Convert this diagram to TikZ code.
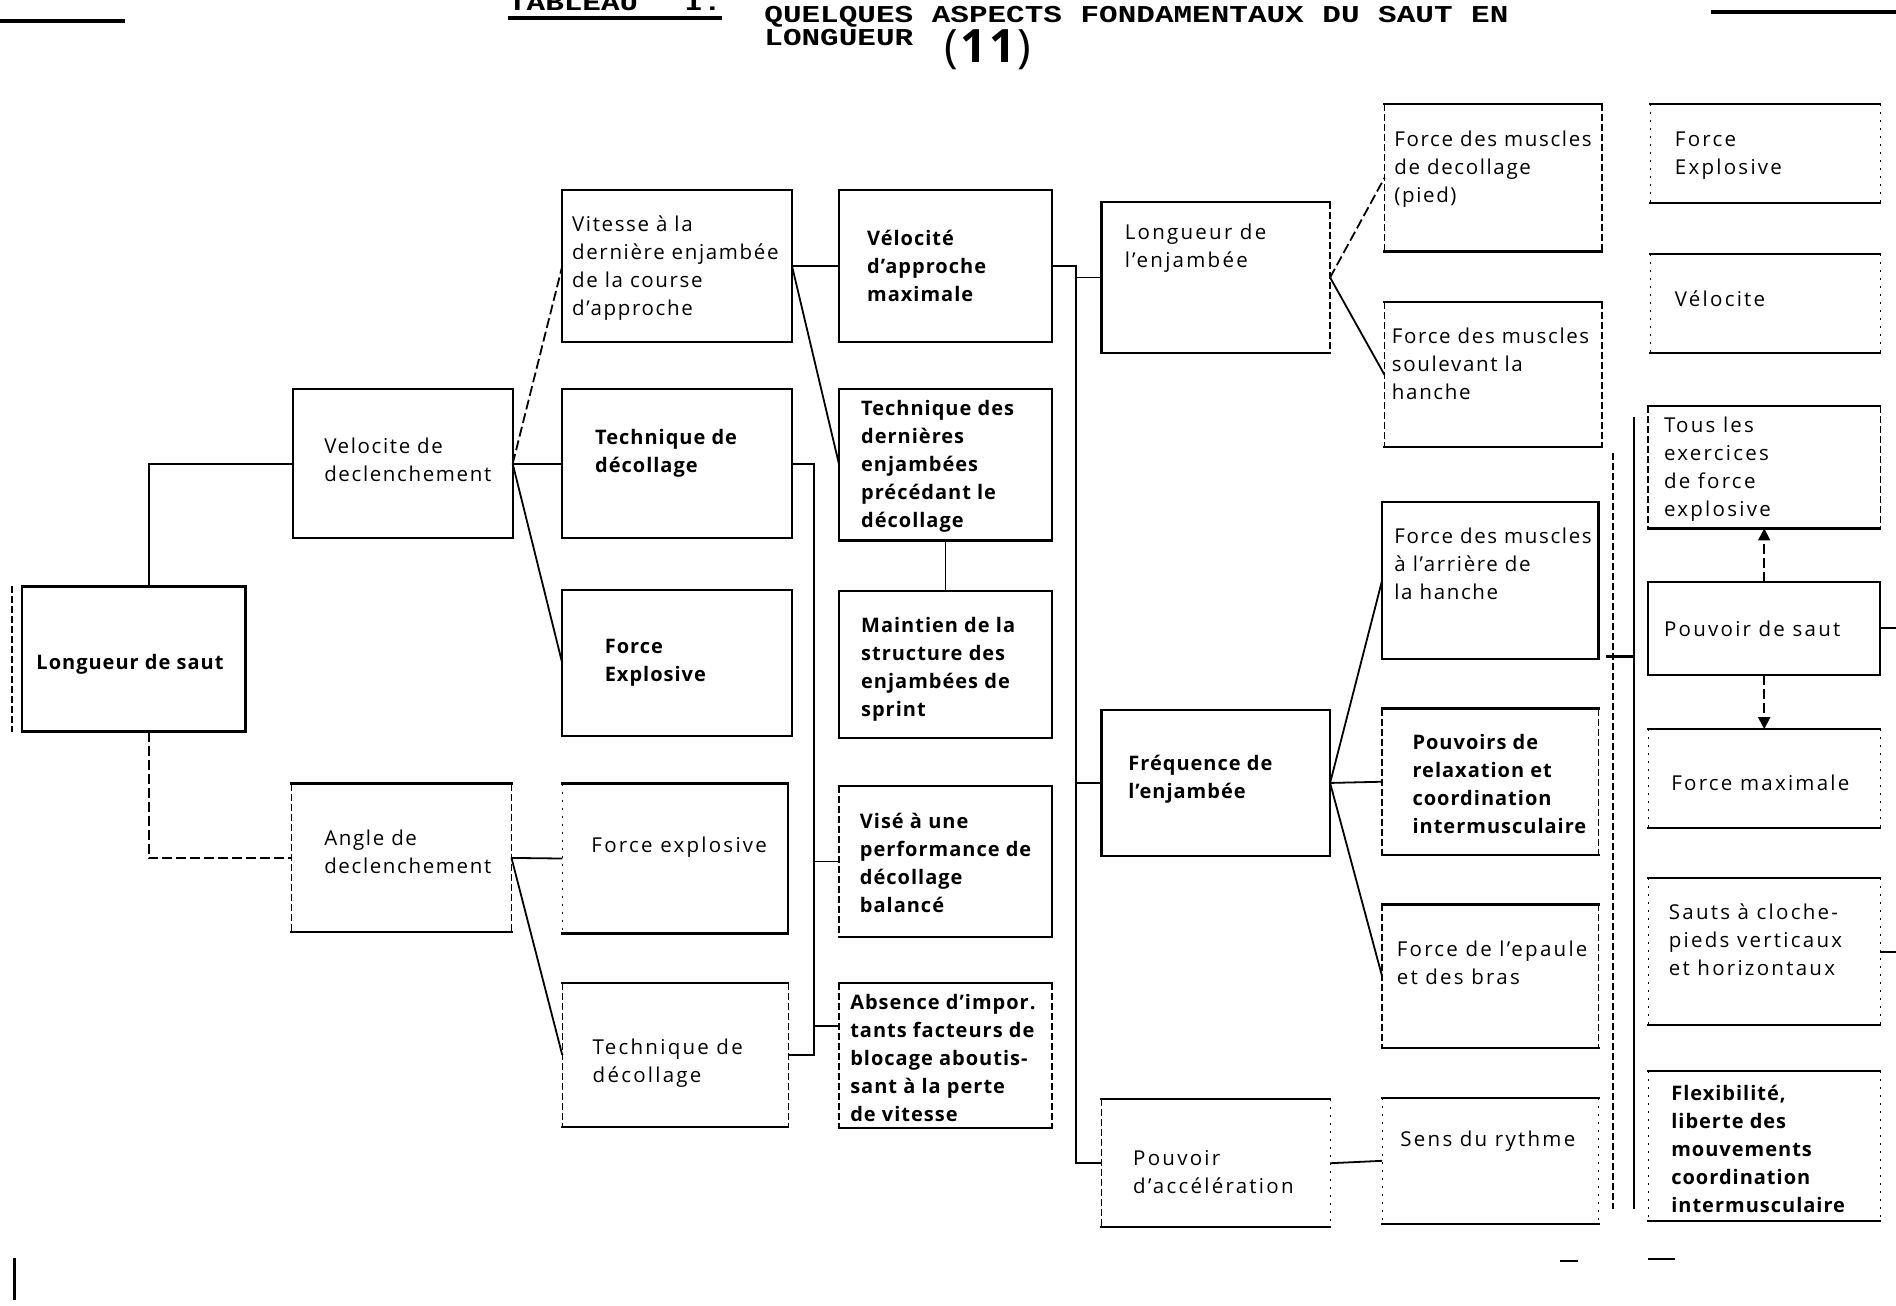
\documentclass[tikz,border=0pt]{standalone}
\usepackage{fontspec}
\setmainfont{Open Sans}[LetterSpace=5,Ligatures=TeX]
\newfontfamily\regA{Open Sans}[LetterSpace=8,Ligatures=TeX]
\newfontfamily\regB{Open Sans}[LetterSpace=11,Ligatures=TeX]
\newfontfamily\titlefont{Liberation Mono}
\usetikzlibrary{fit,arrows.meta}
\tikzset{
  boxst/.style={draw, line width=2.2pt, inner sep=0pt, outer sep=0pt},
  obox/.style={inner sep=0pt, outer sep=0pt},
  hline/.style={line width=2.2pt, line cap=rect},
  sol/.style={line width=2.2pt, line cap=rect},
  dsh/.style={line width=1.5pt, dash pattern=on 7pt off 3pt},
  dot/.style={line width=1.2pt, dash pattern=on 2pt off 6pt},
  conn/.style={line width=1.8pt},
  longdash/.style={dash pattern=on 10pt off 4pt},
  rt/.style={inner sep=0pt, align=left, anchor=west, font=\regA\fontsize{20.5}{28}\selectfont},
  rw/.style={rt, font=\regB\fontsize{20.5}{28}\selectfont},
  bt/.style={rt, font=\fontsize{20}{28}\selectfont\bfseries},
  ttl/.style={inner sep=0pt, anchor=base west, font=\titlefont\bfseries\fontsize{31}{31}\selectfont},
}
\newcommand{\mkbox}[5]{%
  \node[obox, fit={(#2) (#3)}] (#1) {};
  \draw[hline] (#1.north west) -- (#1.north east);
  \draw[hline] (#1.south west) -- (#1.south east);
  \draw[#4] (#1.north west) -- (#1.south west);
  \draw[#5] (#1.north east) -- (#1.south east);
}
\newcommand{\tl}[1]{\scalebox{1}[0.78]{#1}}
\begin{document}
\begin{tikzpicture}[x=1.2092pt,y=-1.2092pt]
\useasboundingbox (0,0) rectangle (1568,1080);
\clip (0,0) rectangle (1568,1080);
\fill[white] (0,0) rectangle (1568,1080);

% title
\node[ttl] (tab) at (420,9) {\tl{TABLEAU}};
\node[ttl] (tabI) at (566,9) {\tl{I.}};
\draw[line width=3.5pt] ([yshift=-7pt]tab.base west) -- ([yshift=-7pt]tabI.base east);
\node[ttl] (t1) at (632,19) {\tl{QUELQUES ASPECTS FONDAMENTAUX DU SAUT EN}};
\node[ttl] (t2) at (632,38) {\tl{LONGUEUR}};
\node[inner sep=0pt, font=\fontsize{46}{46}\selectfont] (t3) at (817,41) {(\textbf{11})};
\coordinate (lb1) at (0,17); \coordinate (lb2) at (103,17);
\draw[line width=4pt] (lb1) -- (lb2);
\coordinate (rb1) at (1415,10); \coordinate (rb2) at (1568,10);
\draw[line width=4pt] (rb1) -- (rb2);

% boxes
\node[boxst,fit={(18,485) (203,605)}] (b1) {};
\node[boxst,fit={(242,322) (424,445)}] (b2) {};
\mkbox{b3}{241,648}{423,771}{dsh}{dsh}
\node[boxst,fit={(465,157) (655,283)}] (b4) {};
\node[boxst,fit={(465,322) (655,445)}] (b5) {};
\node[boxst,fit={(465,488) (655,609)}] (b6) {};
\mkbox{b7}{465,648}{652,772}{dot}{sol}
\mkbox{b8}{465,813}{652,932}{dsh}{dsh}
\node[boxst,fit={(694,157) (870,283)}] (b9) {};
\node[boxst,fit={(694,322) (870,447)}] (b10) {};
\node[boxst,fit={(694,489) (870,610)}] (b11) {};
\mkbox{b12}{694,650}{870,775}{dsh}{sol}
\mkbox{b13}{694,813}{870,933}{dsh}{dsh}
\mkbox{b14}{911,167}{1100,292}{sol}{dsh}
\node[boxst,fit={(911,587) (1100,708)}] (b15) {};
\mkbox{b16}{911,909}{1100,1015}{dsh}{dot}
\mkbox{b17}{1145,86}{1325,208}{dsh}{dsh}
\mkbox{b18}{1145,250}{1325,370}{dsh}{dsh}
\node[boxst,fit={(1143,415) (1322,545)}] (b19) {};
\mkbox{b20}{1143,586}{1322,707}{dsh}{dsh}
\mkbox{b21}{1143,748}{1322,867}{dsh}{dsh}
\mkbox{b22}{1143,908}{1322,1012}{dot}{dot}
\mkbox{b23}{1365,86}{1555,168}{dot}{dot}
\mkbox{b24}{1365,210}{1555,292}{dot}{dot}
\mkbox{b25}{1363,336}{1555,437}{dsh}{dsh}
\node[boxst,fit={(1363,481) (1555,558)}] (b26) {};
\mkbox{b27}{1363,603}{1555,685}{dot}{dot}
\mkbox{b28}{1363,726}{1555,848}{dot}{dot}
\mkbox{b29}{1363,886}{1555,1010}{dot}{dot}

% texts
\node[bt] (b1t) at (30,549) {Longueur de saut};
\node[rt] (b2t) at (268,380.5) {Velocite de\\declenchement};
\node[rt] (b3t) at (268,704.5) {Angle de\\declenchement};
\node[rt] (b4t) at (473,222) {Vitesse à la\\dernière enjambée\\de la course\\d'approche};
\node[bt] (b5t) at (492,374.5) {Technique de\\décollage};
\node[bt] (b6t) at (500,548.5) {Force\\Explosive};
\node[rw] (b7t) at (489,701) {Force explosive};
\node[rw] (b8t) at (490,879) {Technique de\\décollage};
\node[bt] (b9t) at (717,220) {Vélocité\\d'approche\\maximale};
\node[bt] (b10t) at (712,385.5) {Technique des\\dernières\\enjambées\\précédant le\\décollage};
\node[bt] (b11t) at (712,553.5) {Maintien de la\\structure des\\enjambées de\\sprint};
\node[bt] (b12t) at (711,713.5) {Visé à une\\performance de\\décollage\\balancé};
\node[bt] (b13t) at (703,875) {Absence d'impor.\\tants facteurs de\\blocage aboutis-\\sant à la perte\\de vitesse};
\node[rw] (b14t) at (930,205.5) {Longueur de\\l'enjambée};
\node[bt] (b15t) at (933,644.5) {Fréquence de\\l'enjambée};
\node[rw] (b16t) at (937,969) {Pouvoir\\d'accélération};
\node[rt] (b17t) at (1153,140) {Force des muscles\\de decollage\\(pied)};
\node[rt] (b18t) at (1151,301) {Force des muscles\\soulevant la\\hanche};
\node[rt] (b19t) at (1153,466.5) {Force des muscles\\à l'arrière de\\la hanche};
\node[bt] (b20t) at (1168,648.5) {Pouvoirs de\\relaxation et\\coordination\\intermusculaire};
\node[rw] (b21t) at (1155,796.5) {Force de l'epaule\\et des bras};
\node[rw] (b22t) at (1158,944) {Sens du rythme};
\node[rw] (b23t) at (1385,128.5) {Force\\Explosive};
\node[rw] (b24t) at (1385,247) {Vélocite};
\node[rw] (b25t) at (1376,388) {Tous les\\exercices\\de force\\explosive};
\node[rw] (b26t) at (1376,520) {Pouvoir de saut};
\node[rw] (b27t) at (1382,647) {Force maximale};
\node[rw] (b28t) at (1380,777.5) {Sauts à cloche-\\pieds verticaux\\et horizontaux};
\node[bt] (b29t) at (1382,950.5) {Flexibilité,\\liberte des\\mouvements\\coordination\\intermusculaire};

% connectors
\draw[conn] (b1.north) ++(12.5,0) |- (b2.west);
\draw[conn, longdash] (b1.south) ++(12.5,0) |- (b3.west);
\draw[conn, longdash] (b2.east) -- (b4.west);
\draw[conn] (b2.east) -- (b5.west);
\draw[conn] (b2.east) -- (b6.west);
\draw[conn] (b3.east) -- (b7.west);
\draw[conn] (b3.east) -- (b8.west);
\draw[conn] (b4.east) -- (b9.west);
\draw[conn] (b4.east) -- (b10.west);
\draw[conn] (b10.south) -- (b11.north);
\coordinate (v1) at (673,0);
\draw[conn] (b5.east) -| (v1 |- b8.east) -- (b8.east);
\draw[conn] (v1 |- b12.west) -- (b12.west);
\coordinate (a13) at ([yshift=30pt]b13.west);
\draw[conn] (v1 |- a13) -- (a13);
\coordinate (v2) at (890,0);
\draw[conn] (b9.east) -| (v2 |- b16.west) -- (b16.west);
\draw[conn] (v2 |- b14.west) -- (b14.west);
\draw[conn] (v2 |- b15.west) -- (b15.west);
\draw[conn, longdash] (b14.east) -- (b17.west);
\draw[conn] (b14.east) -- (b18.west);
\draw[conn] (b15.east) -- (b19.west);
\draw[conn] (b15.east) -- (b20.west);
\draw[conn] (b15.east) -- (b21.west);
\draw[conn] (b16.east) -- (b22.west);
\draw[conn, longdash, -{Triangle[length=12pt,width=12pt]}] (b26.north) -- (b25.south);
\draw[conn, longdash, -{Triangle[length=12pt,width=12pt]}] (b26.south) -- (b27.north);
\coordinate (r1) at (1568,519.5);
\draw[conn] (b26.east) -- (r1);
\coordinate (r2) at (1568,787);
\draw[conn] (b28.east) -- (r2);

% lines between columns 6 and 7
\coordinate (va) at (1351,345); \coordinate (vb) at (1351,1000);
\draw[conn] (va) -- (vb);
\coordinate (vc) at (1334,375); \coordinate (vd) at (1334,1000);
\draw[dsh] (vc) -- (vd);
\coordinate (ve) at (1328,543);
\draw[line width=2.5pt] (ve) -- (va |- ve);

% marks at the edges
\coordinate (m1) at (10,485); \coordinate (m2) at (10,605);
\draw[dsh] (m1) -- (m2);
\coordinate (m3) at (12,1040); \coordinate (m4) at (12,1075);
\draw[line width=2.5pt] (m3) -- (m4);
\coordinate (m5) at (1290,1043); \coordinate (m6) at (1305,1043);
\draw[line width=1.5pt] (m5) -- (m6);
\coordinate (m7) at (1363,1041); \coordinate (m8) at (1385,1041);
\draw[line width=1.5pt] (m7) -- (m8);
\end{tikzpicture}
\end{document}
